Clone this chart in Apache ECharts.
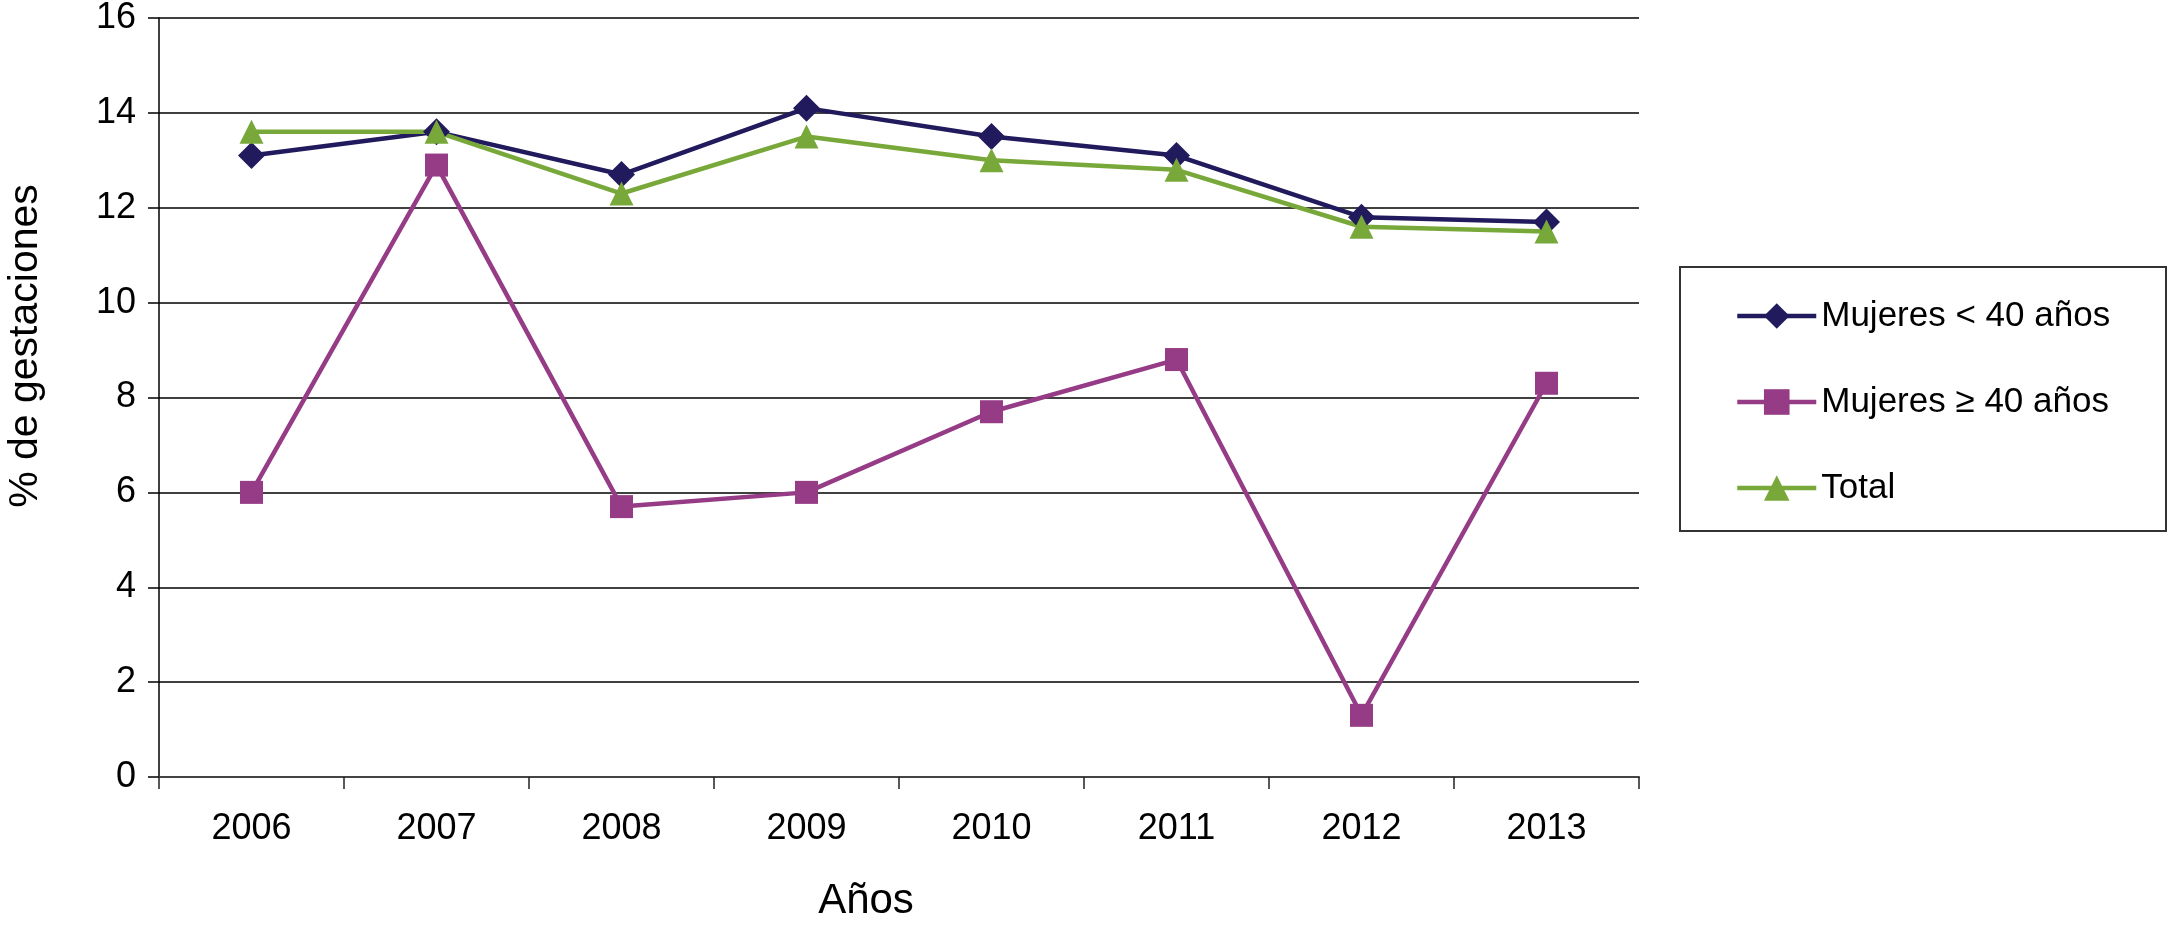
<!DOCTYPE html>
<html>
<head>
<meta charset="utf-8">
<script src="https://cdn.jsdelivr.net/npm/echarts@6/dist/echarts.min.js"></script>
<style>
html,body{margin:0;padding:0;background:#fff;}
#chart{width:2168px;height:925px;}
</style>
</head>
<body>
<div id="chart"></div>
<script>
const years = ['2006','2007','2008','2009','2010','2011','2012','2013'];
const yTicks = [0,2,4,6,8,10,12,14,16];
const mujeresMenos40 = [13.1,13.6,12.7,14.1,13.5,13.1,11.8,11.7];
const mujeresMas40 = [6.0,12.9,5.7,6.0,7.7,8.8,1.3,8.3];
const total = [13.6,13.6,12.3,13.5,13.0,12.8,11.6,11.5];
const seriesNames = ['Mujeres < 40 años','Mujeres \u2265 40 años','Total'];
const xTitle = 'Años';
const yTitle = '% de gestaciones';

const FONT = '"Liberation Sans", Arial, sans-serif';
const chart = echarts.init(document.getElementById('chart'));

function lineSeries(name, data, color, symbol, size){
  return {
    name: name, type: 'line', data: data,
    symbol: symbol, symbolSize: size,
    lineStyle: {color: color, width: 4.5},
    itemStyle: {color: color},
    emphasis: {disabled: true},
    animation: false
  };
}

chart.setOption({
  animation: false,
  backgroundColor: '#fff',
  grid: {left: 159, right: 529, top: 17, bottom: 148, containLabel: false},
  xAxis: {
    type: 'category', data: years, boundaryGap: true,
    axisLine: {show: true, lineStyle: {color: '#444', width: 2}},
    axisTick: {show: true, alignWithLabel: false, length: 12, lineStyle: {color: '#222', width: 1.5}},
    axisLabel: {fontFamily: FONT, fontSize: 36, color: '#000', margin: 34},
    splitLine: {show: false}
  },
  yAxis: {
    type: 'value', min: yTicks[0], max: yTicks[yTicks.length-1], interval: 2,
    axisLine: {show: true, lineStyle: {color: '#000', width: 1.5}},
    axisTick: {show: true, length: 11, lineStyle: {color: '#000', width: 1.5}},
    axisLabel: {fontFamily: FONT, fontSize: 36, color: '#000', margin: 23},
    splitLine: {show: true, lineStyle: {color: '#000', width: 1.5}}
  },
  legend: {
    orient: 'vertical', left: 1735, top: 296,
    padding: 0,
    itemWidth: 79, itemHeight: 32, itemGap: 46,
    lineStyle: {width: 4.5},
    textStyle: {fontFamily: FONT, fontSize: 35, color: '#000', lineHeight: 40},
    data: seriesNames
  },
  graphic: [
    {type: 'rect', shape: {x: 1680, y: 267, width: 486, height: 264},
     style: {fill: 'none', stroke: '#333', lineWidth: 2}, silent: true, z: -1},
    {type: 'text', x: 26, y: 346, rotation: Math.PI/2,
     style: {text: yTitle, font: '41px ' + FONT, fill: '#000', align: 'center', verticalAlign: 'middle'}},
    {type: 'text', x: 866, y: 901,
     style: {text: xTitle, font: '42px ' + FONT, fill: '#000', align: 'center', verticalAlign: 'middle'}}
  ],
  series: [
    lineSeries(seriesNames[0], mujeresMenos40, '#211a5c', 'diamond', 27),
    lineSeries(seriesNames[1], mujeresMas40, '#963b85', 'rect', 23),
    lineSeries(seriesNames[2], total, '#79a83a', 'triangle', 24)
  ]
});
</script>
</body>
</html>
